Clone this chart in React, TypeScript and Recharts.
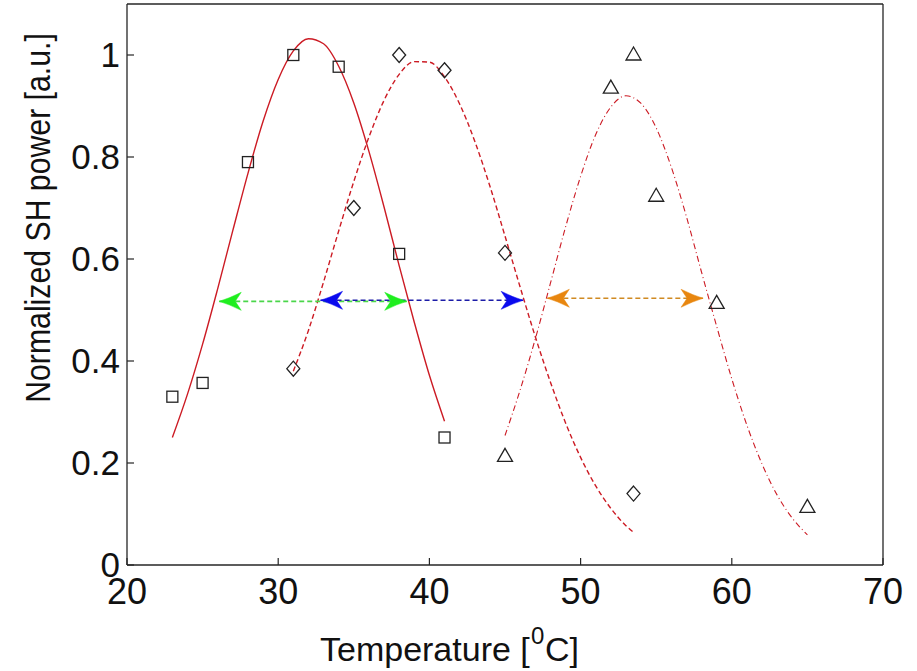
import React from 'react';
import { ComposedChart, Line, Scatter, XAxis, YAxis } from 'recharts';

// measured points (temperature in degC, normalized SH power)
const squareT = [23, 25, 28, 31, 34, 38, 41];
const squareP = [0.33, 0.357, 0.79, 1.0, 0.977, 0.61, 0.25];
const diamondT = [31, 35, 38, 41, 45, 53.5];
const diamondP = [0.385, 0.7, 1.0, 0.97, 0.612, 0.14];
const triangleT = [45, 52, 53.5, 55, 59, 65];
const triangleP = [0.213, 0.935, 1.0, 0.723, 0.513, 0.113];

// fitted curves
const fit1T = [23, 24, 25, 26, 27, 28, 29, 30, 31, 32, 33, 34, 35, 36, 37, 38, 39, 40, 41];
const fit1P = [0.25, 0.335, 0.433, 0.542, 0.656, 0.768, 0.87, 0.952, 1.008, 1.032, 1.022, 0.978, 0.906, 0.811, 0.702, 0.587, 0.476, 0.372, 0.282];
const fit2T = [31, 32, 33, 34, 35, 36, 37, 38, 39, 40, 41, 42, 43, 44, 45, 46, 47, 48, 49, 50, 51, 52, 53, 53.5];
const fit2P = [0.38, 0.46, 0.555, 0.655, 0.752, 0.839, 0.911, 0.962, 0.987, 0.986, 0.957, 0.904, 0.831, 0.743, 0.645, 0.545, 0.448, 0.359, 0.279, 0.211, 0.155, 0.111, 0.077, 0.064];
const fit3T = [45, 46, 47, 48, 49, 50, 51, 52, 53, 54, 55, 56, 57, 58, 59, 60, 61, 62, 63, 64, 65];
const fit3P = [0.254, 0.343, 0.443, 0.552, 0.662, 0.762, 0.844, 0.898, 0.92, 0.905, 0.857, 0.78, 0.683, 0.574, 0.468, 0.365, 0.274, 0.198, 0.137, 0.092, 0.059];

// FWHM arrows: green, blue, orange
const arrowFrom = [26.1, 32.8, 47.8];
const arrowTo = [38.5, 46.2, 58.1];
const arrowLevel = [0.517, 0.519, 0.523];
const arrowLine = ['#4ad64a', '#1c1ca8', '#d08a22'];
const arrowHead = ['#1fee1f', '#0a0aee', '#e8860f'];

const xTicks = [20, 30, 40, 50, 60, 70];
const yTicks = [0, 0.2, 0.4, 0.6, 0.8, 1];

const zip = (t: number[], p: number[]) => t.map((x, i) => ({ x, y: p[i] }));

const FONT = '"Liberation Sans", Arial, sans-serif';
const RED = '#cc1b24';
const AX = '#262626';

const Square = (p: any) => (
  <rect x={p.cx - 5.5} y={p.cy - 5.5} width={11} height={11} fill="none" stroke="#222" strokeWidth={1.3} />
);
const Diamond = (p: any) => (
  <path d={`M${p.cx},${p.cy - 7.5} L${p.cx + 6.5},${p.cy} L${p.cx},${p.cy + 7.5} L${p.cx - 6.5},${p.cy} Z`} fill="none" stroke="#222" strokeWidth={1.3} />
);
const Triangle = (p: any) => (
  <path d={`M${p.cx},${p.cy - 8} L${p.cx + 7.5},${p.cy + 5} L${p.cx - 7.5},${p.cy + 5} Z`} fill="none" stroke="#222" strokeWidth={1.3} />
);

const arrowDot = (color: string) => (props: any) => {
  const { cx, cy, index } = props;
  const s = index === 0 ? 1 : -1;
  const d = `M${cx},${cy} Q${cx + 10 * s},${cy - 3} ${cx + 22 * s},${cy - 9} L${cx + 16 * s},${cy} L${cx + 22 * s},${cy + 9} Q${cx + 10 * s},${cy + 3} ${cx},${cy} Z`;
  return <path key={`ah-${index}`} d={d} fill={color} stroke={color} strokeWidth={0.5} />;
};

// "Temperature [^0C]" — superscript drawn as its own text
const XTitle = () => (
  <g fontFamily={FONT} fill="#111">
    <text x={320} y={661} fontSize={34}>Temperature [</text>
    <text x={531} y={644} fontSize={24}>0</text>
    <text x={545} y={661} fontSize={34}>C]</text>
  </g>
);

const YTitle = () => (
  <text transform="rotate(-90) scale(0.84,1)" x={-218 / 0.84} y={50} textAnchor="middle" fontFamily={FONT} fontSize={36} fill="#111">
    Normalized SH power [a.u.]
  </text>
);

export default function App() {
  return (
    <div style={{ position: 'absolute', left: 0, top: 0, width: 917, height: 671, background: '#fff' }}>
      <ComposedChart width={917} height={671} margin={{ top: 0, right: 0, bottom: 0, left: 0 }}>
        <XAxis
          dataKey="x"
          type="number"
          domain={[20, 70]}
          ticks={xTicks}
          height={106}
          tickSize={-7}
          tickMargin={20}
          axisLine={{ stroke: AX, strokeWidth: 1.3 }}
          tickLine={{ stroke: AX, strokeWidth: 1.2 }}
          tick={{ fontSize: 36, fill: '#111', fontFamily: FONT }}
          label={{ content: XTitle }}
        />
        <XAxis
          xAxisId="top"
          orientation="top"
          dataKey="x"
          type="number"
          domain={[20, 70]}
          ticks={xTicks}
          height={4}
          tickSize={-7}
          tick={false}
          axisLine={{ stroke: AX, strokeWidth: 1.3 }}
          tickLine={{ stroke: AX, strokeWidth: 1.2 }}
        />
        <YAxis
          type="number"
          domain={[0, 1.1]}
          ticks={yTicks}
          width={127}
          tickSize={-7}
          tickMargin={14}
          axisLine={{ stroke: AX, strokeWidth: 1.3 }}
          tickLine={{ stroke: AX, strokeWidth: 1.2 }}
          tick={{ fontSize: 35, fill: '#111', fontFamily: FONT }}
          label={{ content: YTitle }}
        />
        <YAxis
          yAxisId="right"
          orientation="right"
          type="number"
          domain={[0, 1.1]}
          ticks={yTicks}
          width={34}
          tickSize={-7}
          tick={false}
          axisLine={{ stroke: AX, strokeWidth: 1.3 }}
          tickLine={{ stroke: AX, strokeWidth: 1.2 }}
        />

        <Line data={zip(fit1T, fit1P)} dataKey="y" type="monotone" stroke={RED} strokeWidth={1.4} dot={false} activeDot={false} isAnimationActive={false} />
        <Line data={zip(fit2T, fit2P)} dataKey="y" type="monotone" stroke={RED} strokeWidth={1.4} strokeDasharray="5 3" dot={false} activeDot={false} isAnimationActive={false} />
        <Line data={zip(fit3T, fit3P)} dataKey="y" type="monotone" stroke={RED} strokeWidth={1.1} strokeDasharray="6 3 1 3" dot={false} activeDot={false} isAnimationActive={false} />

        {arrowFrom.map((from, i) => (
          <Line
            key={`arrow-${i}`}
            data={[{ x: from, y: arrowLevel[i] }, { x: arrowTo[i], y: arrowLevel[i] }]}
            dataKey="y"
            type="linear"
            stroke={arrowLine[i]}
            strokeWidth={1.6}
            strokeDasharray="5 3"
            dot={arrowDot(arrowHead[i])}
            activeDot={false}
            isAnimationActive={false}
          />
        ))}

        <Scatter data={zip(squareT, squareP)} dataKey="y" shape={Square} isAnimationActive={false} />
        <Scatter data={zip(diamondT, diamondP)} dataKey="y" shape={Diamond} isAnimationActive={false} />
        <Scatter data={zip(triangleT, triangleP)} dataKey="y" shape={Triangle} isAnimationActive={false} />
      </ComposedChart>
    </div>
  );
}
